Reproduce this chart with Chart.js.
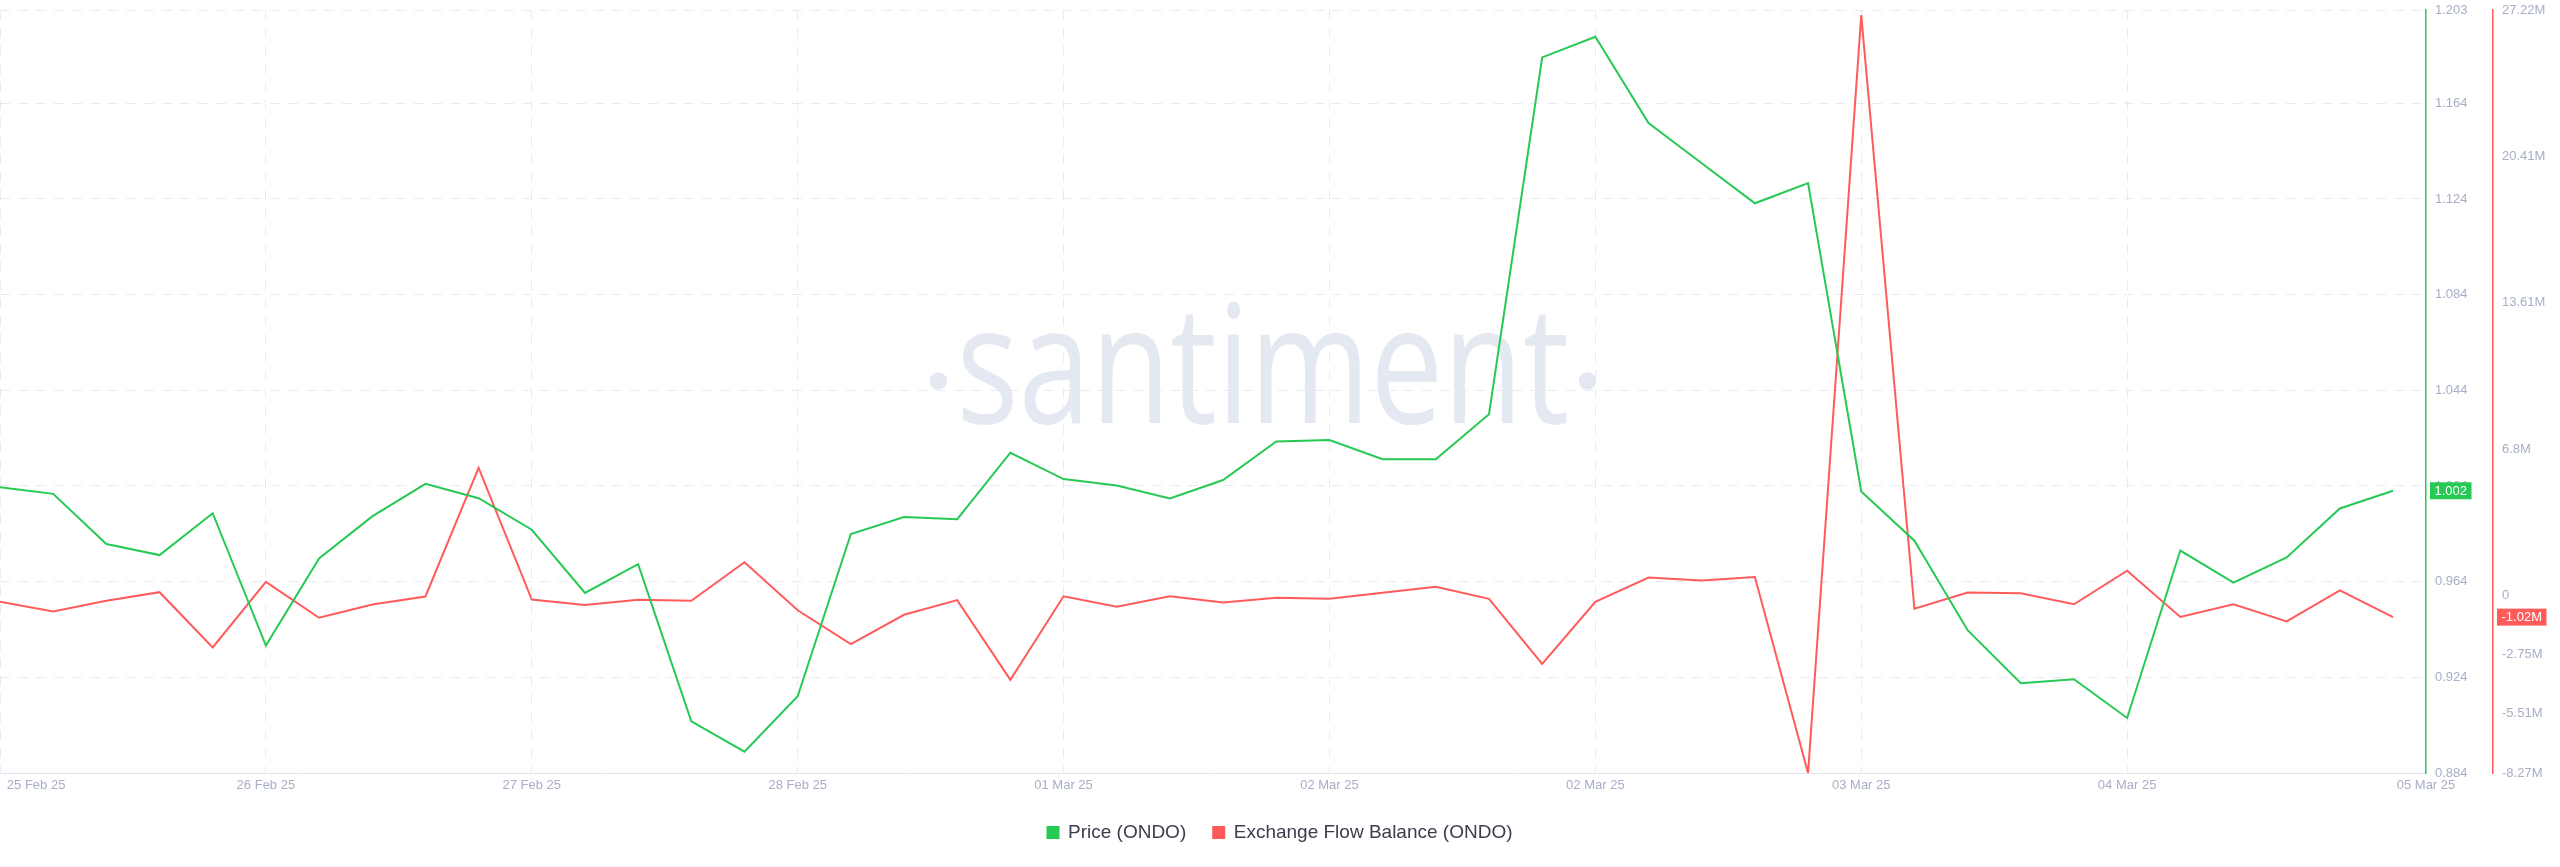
<!DOCTYPE html>
<html>
<head>
<meta charset="utf-8">
<title>ONDO price vs exchange flow balance</title>
<script src="https://cdn.jsdelivr.net/npm/chart.js@4.4.1/dist/chart.umd.min.js"></script>
<style>
  html, body { margin: 0; padding: 0; background: #fff; }
  #wrap { width: 2560px; height: 867px; }
</style>
</head>
<body>
<div id="wrap"><canvas id="flow"></canvas></div>
<script>
// one point roughly every 4.3h, 25 Feb 25 -> 05 Mar 25
const price = [
  1.0035, 1.0007, 0.9797, 0.9751, 0.9926, 0.9373, 0.9737, 0.9913, 1.0049, 0.9989,
  0.9857, 0.9593, 0.9713, 0.9056, 0.8929, 0.9161, 0.9839, 0.9910, 0.9901, 1.0179,
  1.0069, 1.0042, 0.9988, 1.0065, 1.0226, 1.0232, 1.0152, 1.0152, 1.0340, 1.1832,
  1.1918, 1.1557, 1.1389, 1.1222, 1.1306, 1.0017, 0.9811, 0.9437, 0.9215, 0.9232,
  0.9070, 0.9770, 0.9636, 0.9741, 0.9946, 1.0020
];

// exchange flow balance, millions of ONDO
const flowBalance = [
  -0.30, -0.76, -0.26, 0.14, -2.43, 0.62, -1.05, -0.43, -0.06, 5.92,
  -0.20, -0.46, -0.21, -0.26, 1.53, -0.70, -2.27, -0.91, -0.23, -3.94,
  -0.05, -0.54, -0.05, -0.34, -0.12, -0.16, 0.11, 0.39, -0.17, -3.20,
  -0.31, 0.82, 0.68, 0.85, -8.27, 26.98, -0.63, 0.12, 0.09, -0.42,
  1.14, -1.01, -0.42, -1.22, 0.22, -1.02
];

// x axis runs a little past the last point
const xEnd = 45.62;
const xTicks = [0, 5, 10, 15, 20, 25, 30, 35, 40, xEnd];
const xTickLabels = ['25 Feb 25', '26 Feb 25', '27 Feb 25', '28 Feb 25', '01 Mar 25',
  '02 Mar 25', '02 Mar 25', '03 Mar 25', '04 Mar 25', '05 Mar 25'];

const priceTicks = [0.884, 0.924, 0.964, 1.004, 1.044, 1.084, 1.124, 1.164, 1.203];
const flowTicks = [-8.27, -5.51, -2.75, 0, 6.8, 13.61, 20.41, 27.22];
const flowTickLabels = ['-8.27M', '-5.51M', '-2.75M', '0', '6.8M', '13.61M', '20.41M', '27.22M'];

const GREEN = '#26c953';
const RED = '#ff5b5b';
const GRID = '#e8ebf3';
const MUTED = '#a7aec6';

Chart.defaults.font.family = '"Liberation Sans", Arial, sans-serif';
Chart.defaults.font.size = 13;
Chart.defaults.color = MUTED;

const toPoints = (arr) => arr.map((v, i) => ({ x: i, y: v }));

// big faded "santiment" mark behind the lines
const watermark = {
  id: 'watermark',
  beforeDatasetsDraw(chart) {
    const { ctx, chartArea: a } = chart;
    const w = a.right - a.left;
    const h = a.bottom - a.top;
    const cx = a.left + w * 0.5206;
    const base = a.top + h * 0.5413;
    const target = w * 0.2527;
    ctx.save();
    ctx.fillStyle = '#e4e8f1';
    ctx.font = '164px "Open Sans"';
    const natural = ctx.measureText('santiment').width;
    ctx.translate(cx, base);
    ctx.scale(target / natural, 1);
    ctx.textAlign = 'center';
    ctx.textBaseline = 'alphabetic';
    ctx.fillText('santiment', 0, 0);
    ctx.restore();
    ctx.save();
    ctx.fillStyle = '#e4e8f1';
    [cx - target / 2 - 18, cx + target / 2 + 18].forEach((x) => {
      ctx.beginPath();
      ctx.arc(x, base - 42, 8.7, 0, Math.PI * 2);
      ctx.fill();
    });
    ctx.restore();
  }
};

// coloured tag with the latest value on each axis
const lastValue = {
  id: 'lastValue',
  afterDraw(chart) {
    const { ctx } = chart;
    const p = price[price.length - 1];
    const f = flowBalance[flowBalance.length - 1];
    const tags = [
      [chart.scales.yPrice, p, p.toFixed(3), GREEN],
      [chart.scales.yFlow, f, f.toFixed(2) + 'M', RED]
    ];
    ctx.save();
    ctx.font = '13px "Liberation Sans", Arial, sans-serif';
    ctx.textAlign = 'center';
    ctx.textBaseline = 'middle';
    tags.forEach(([scale, v, text, color]) => {
      const y = scale.getPixelForValue(v);
      const w = ctx.measureText(text).width + 9;
      const h = 17;
      const x = scale.left + 4;
      ctx.fillStyle = color;
      ctx.fillRect(x, y - h / 2, w, h);
      ctx.fillStyle = '#fff';
      ctx.fillText(text, x + w / 2, y + 0.5);
    });
    ctx.restore();
  }
};

// right axes: fixed width, no extra room above/below for labels
const fitRightAxis = (s) => {
  s.width = 67;
  s.paddingTop = 0;
  s.paddingBottom = 0;
};

const ctx = document.querySelector('#flow');
new Chart(ctx, {
  type: 'line',
  data: {
    datasets: [
      {
        label: 'Price (ONDO)',
        data: toPoints(price),
        yAxisID: 'yPrice',
        borderColor: GREEN,
        backgroundColor: GREEN,
        borderWidth: 2,
        pointRadius: 0,
        tension: 0
      },
      {
        label: 'Exchange Flow Balance (ONDO)',
        data: toPoints(flowBalance),
        yAxisID: 'yFlow',
        borderColor: RED,
        backgroundColor: RED,
        borderWidth: 2,
        pointRadius: 0,
        tension: 0
      }
    ]
  },
  options: {
    responsive: true,
    maintainAspectRatio: false,
    animation: false,
    events: [],
    layout: { padding: { top: 10, bottom: 15, left: 0, right: 0 } },
    plugins: {
      tooltip: { enabled: false },
      legend: {
        position: 'bottom',
        labels: {
          boxWidth: 11,
          boxHeight: 11,
          padding: 27,
          color: '#3a3d4c',
          font: { size: 19 }
        }
      }
    },
    scales: {
      x: {
        type: 'linear',
        min: 0,
        max: xEnd,
        afterBuildTicks: (s) => { s.ticks = xTicks.map((v) => ({ value: v })); },
        afterFit: (s) => { s.paddingLeft = 0; s.paddingRight = 0; s.height = 23; },
        grid: {
          color: (c) => (c.index === xTicks.length - 1 ? 'transparent' : GRID),
          drawTicks: false
        },
        border: { color: '#e1e4ee', dash: [10, 8] },
        ticks: {
          padding: 5,
          maxRotation: 0,
          autoSkip: false,
          color: MUTED,
          // push the first label inside the plot like the original
          callback: (v, i) => (i === 0 ? ' '.repeat(20) + xTickLabels[i] : xTickLabels[i])
        }
      },
      yPrice: {
        type: 'linear',
        position: 'right',
        weight: 0,
        min: 0.884,
        max: 1.203,
        afterBuildTicks: (s) => { s.ticks = priceTicks.map((v) => ({ value: v })); },
        afterFit: fitRightAxis,
        grid: { color: GRID, drawTicks: false },
        border: { color: GREEN, width: 1.5, dash: [10, 8] },
        ticks: { padding: 9, color: MUTED, callback: (v) => v.toFixed(3) }
      },
      yFlow: {
        type: 'linear',
        position: 'right',
        weight: 1,
        min: -8.27,
        max: 27.22,
        afterBuildTicks: (s) => { s.ticks = flowTicks.map((v) => ({ value: v })); },
        afterFit: fitRightAxis,
        grid: { drawOnChartArea: false, drawTicks: false },
        border: { color: RED, width: 1.5 },
        ticks: { padding: 9, color: MUTED, callback: (v, i) => flowTickLabels[i] }
      }
    }
  },
  plugins: [watermark, lastValue]
});
</script>
</body>
</html>
